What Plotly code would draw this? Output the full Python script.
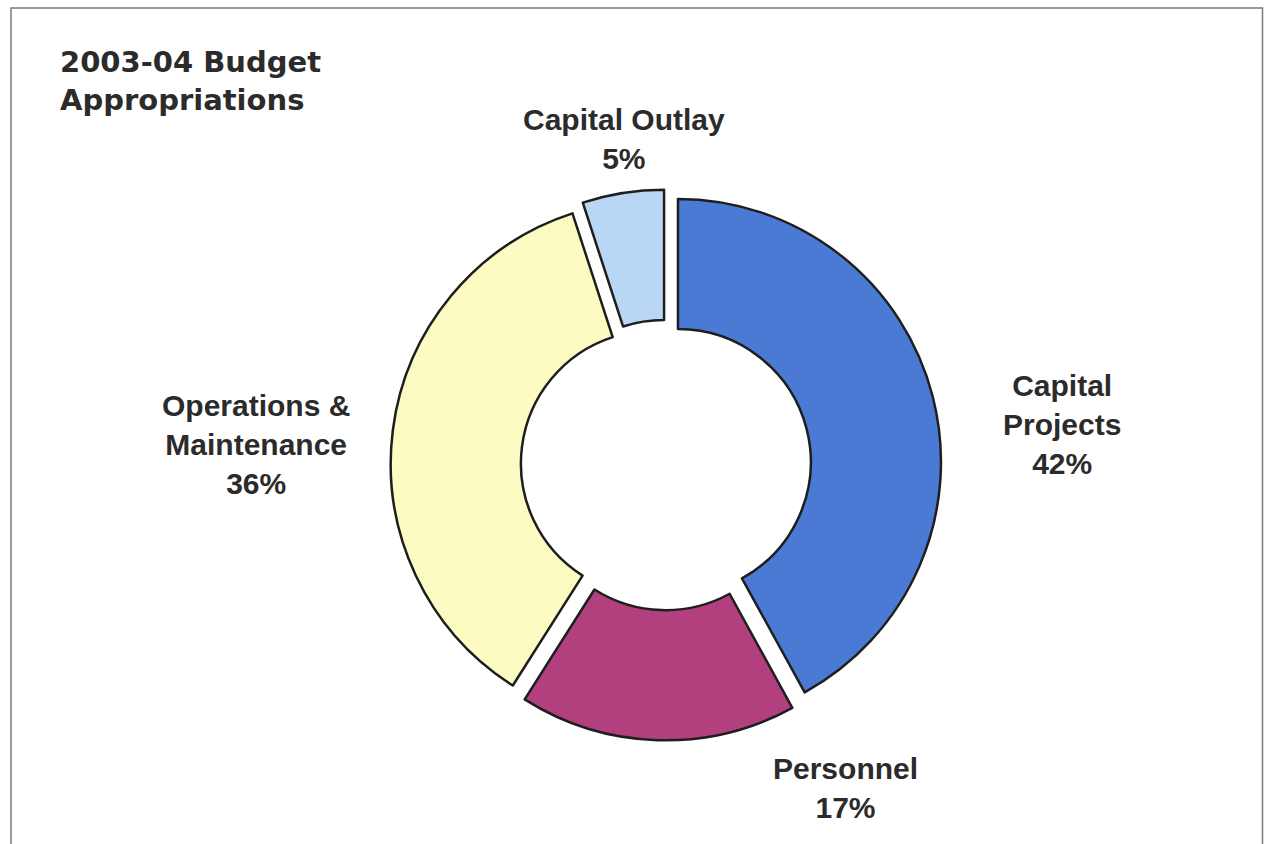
import plotly.graph_objects as go

W, H = 1264, 844

categories = ["Capital Projects", "Personnel", "Operations & Maintenance", "Capital Outlay"]
values = [42, 17, 36, 5]
label_lines = [["Capital", "Projects"], ["Personnel"], ["Operations &", "Maintenance"], ["Capital Outlay"]]
colors = ["#4B7AD5", "#B3407E", "#FCFCC2", "#B9D6F4"]
title_lines = ["2003-04 Budget", "Appropriations"]

# label centres in pixels (layout only)
label_pos = [(1062, 424), (845, 788), (256, 444), (624, 139)]

# pie geometry in pixels
cx, cy, R, pull = 666, 465, 263, 0.047
half = R * (1 + pull)

fig = go.Figure()
fig.add_trace(go.Pie(
    labels=categories,
    values=values,
    sort=False,
    direction="clockwise",
    rotation=0,
    hole=0.505,
    pull=[pull] * len(values),
    marker=dict(colors=colors, line=dict(color="#1e1e1e", width=2.5)),
    textinfo="none",
    hoverinfo="label+percent",
    showlegend=False,
    domain=dict(x=[(cx - half) / W, (cx + half) / W],
                y=[(H - cy - half) / H, (H - cy + half) / H]),
))

annotations = []
for lines, v, (px, py) in zip(label_lines, values, label_pos):
    txt = "<br>".join(lines + [f"{v}%"])
    annotations.append(dict(
        text=txt, x=px / W, y=1 - py / H, xref="paper", yref="paper",
        xanchor="center", yanchor="middle", showarrow=False, align="center",
        font=dict(family="Liberation Sans, Arial, sans-serif", size=30, color="#2b2b2b", weight="bold"),
    ))

annotations.append(dict(
    text="<br>".join(title_lines), x=58 / W, y=1 - 43 / H, xref="paper", yref="paper",
    xanchor="left", yanchor="top", showarrow=False, align="left",
    font=dict(family="DejaVu Sans, Verdana, sans-serif", size=29, color="#2b2b2b", weight="bold"),
))

fig.update_layout(
    width=W, height=H,
    margin=dict(l=0, r=0, t=0, b=0),
    paper_bgcolor="white",
    plot_bgcolor="white",
    annotations=annotations,
    shapes=[dict(type="rect", xref="paper", yref="paper",
                 x0=11 / W, x1=1262.5 / W, y0=-0.05, y1=1 - 8 / H,
                 line=dict(color="#7a7a7a", width=1.5))],
)

fig.write_html("out.html")
